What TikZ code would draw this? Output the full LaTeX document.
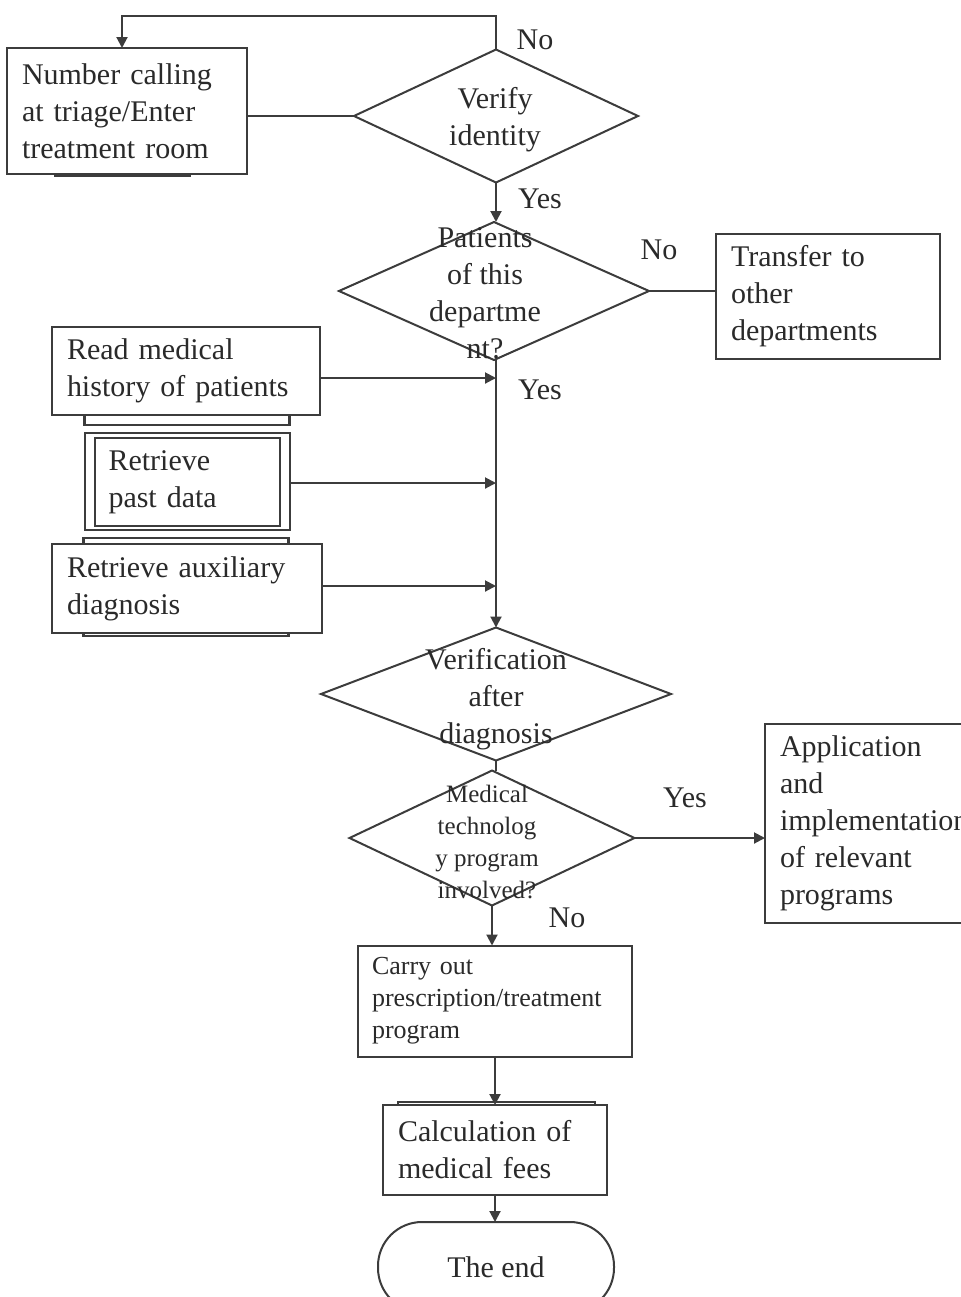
\documentclass[tikz,border=0pt]{standalone}
\usepackage{fontspec}
\setmainfont{Liberation Serif}
\usetikzlibrary{shapes.geometric,arrows.meta}
\definecolor{ink}{HTML}{2A2A2A}
\definecolor{edge}{HTML}{3C3C3C}
\begin{document}
\begin{tikzpicture}[x=0.5pt,y=-0.5pt,
  line width=1pt, draw=edge, text=ink,
  every node/.style={inner sep=0pt, outer sep=0pt},
  txt/.style={font=\fontsize{15}{18.5}\selectfont},
  smalltxt/.style={font=\fontsize{12.5}{16}\selectfont},
  box/.style={draw=edge, fill=white, rectangle, txt, align=left, inner xsep=7.5pt},
  ghost/.style={draw=edge, rectangle, line width=1.2pt},
  decision/.style={draw=edge, diamond, inner sep=0pt},
  lbl/.style={txt},
  arr/.style={-{Triangle[length=5.5pt,width=5.5pt]}},
  link/.style={draw=edge}]
\useasboundingbox (0,0) rectangle (961,1297);

% offset frames peeking out behind some boxes
\node[ghost, minimum width=67.5pt, minimum height=28pt] (g1) at (122.5,148) {};
\node[ghost, minimum width=102.5pt, minimum height=30pt] (g2) at (187,395) {};
\node[ghost, minimum width=102.5pt, minimum height=49pt] (g3) at (186,587) {};
\node[ghost, minimum width=98.5pt, minimum height=30pt] (g4) at (496.5,1132) {};

% process boxes
\node[box, minimum width=120pt, minimum height=63pt, text width=105pt] (b1) at (127,111)
  {Number calling\\at triage/Enter\\treatment room};
\node[box, minimum width=112pt, minimum height=62.5pt, text width=97pt] (tr) at (828,296)
  {Transfer to\\other\\departments};
\node[box, minimum width=134pt, minimum height=44pt, text width=119pt] (rd) at (186,371)
  {Read medical\\history of patients};
\node[box, minimum width=102.5pt, minimum height=48.5pt] (pdo) at (187.5,481.5) {};
\node[box, minimum width=92.5pt, minimum height=44pt, text width=79pt, inner xsep=6.5pt] (pd) at (187.5,482)
  {Retrieve\\past data};
\node[box, minimum width=135pt, minimum height=44.5pt, text width=120pt] (ax) at (187,588.5)
  {Retrieve auxiliary\\diagnosis};
\node[box, minimum width=120pt, minimum height=99.5pt, text width=105pt] (ap) at (885,823)
  {Application\\and\\implementation\\of relevant\\programs};
\node[box, font=\fontsize{13}{16}\selectfont, minimum width=137pt, minimum height=55.5pt, text width=123pt, inner xsep=7pt] (cr) at (495,1001)
  {Carry out\\prescription/treatment\\program};
\node[box, minimum width=112pt, minimum height=45pt, text width=97pt] (cf) at (495,1150)
  {Calculation of\\medical fees};
\node[draw=edge, fill=white, rounded corners=22pt, minimum width=118pt, minimum height=45pt, txt] (end) at (496,1267)
  {The end};

% decisions
\node[decision, minimum width=142pt, minimum height=66.5pt] (d1) at (496,116) {};
\node[txt, align=center] (t1) at (495,120) {Verify\\identity};
\node[decision, minimum width=155pt, minimum height=69pt] (d2) at (494,291) {};
\node[txt, align=center] (t2) at (485,293) {Patients\\of this\\departme\\nt?};
\node[decision, minimum width=175pt, minimum height=66.5pt] (d3) at (496,694) {};
\node[txt, align=center] (t3) at (496,699) {Verification\\after\\diagnosis};
\node[decision, minimum width=142.5pt, minimum height=67.5pt] (d4) at (492,838) {};
\node[smalltxt, align=center] (t4) at (487,842) {Medical\\technolog\\y program\\involved?};

% main spine and side inputs
\coordinate (lp) at (122,16);
\coordinate (m1) at (496,378);
\coordinate (m2) at (496,483);
\coordinate (m3) at (496,586);

\draw[link] (d1.west -| b1.east) -- (d1.west);
\draw[link, arr] (d1.north) |- (lp) -- (lp |- b1.north);
\draw[link, arr] (d1.south) -- (d1.south |- d2.north);
\draw[link] (d2.east) -- (d2.east -| tr.west);
\draw[link, arr] (d2.south -| m1) -- (d3.north);
\draw[link, arr] (rd.east |- m1) -- (m1);
\draw[link, arr] (pdo.east |- m2) -- (m2);
\draw[link, arr] (ax.east |- m3) -- (m3);
\draw[link] (d3.south) -- (d3.south |- d4.north);
\draw[link, arr] (d4.east) -- (d4.east -| ap.west);
\draw[link, arr] (d4.south) -- (d4.south |- cr.north);
\draw[link, arr] (cr.south) -- (cr.south |- cf.north);
\draw[link, arr] (cf.south) -- (cf.south |- end.north);

% branch labels
\node[lbl] (no1) at (535,40) {No};
\node[lbl] (yes1) at (540,199) {Yes};
\node[lbl] (no2) at (659,250) {No};
\node[lbl] (yes2) at (540,390) {Yes};
\node[lbl] (yes3) at (685,798) {Yes};
\node[lbl] (no3) at (567,918) {No};
\end{tikzpicture}
\end{document}
